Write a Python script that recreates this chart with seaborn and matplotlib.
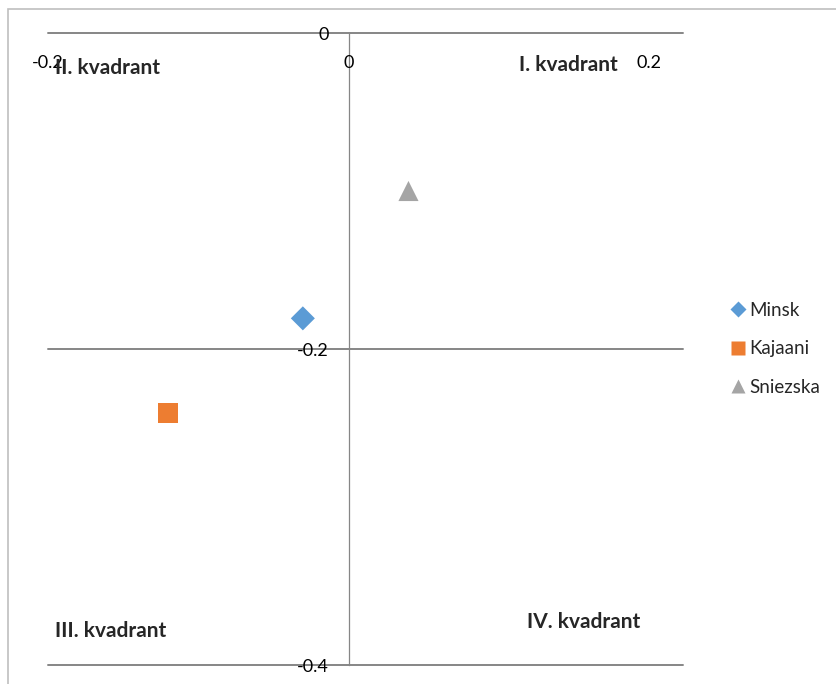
import matplotlib
matplotlib.use("Agg")
import matplotlib.pyplot as plt
import matplotlib.patches as mpatches
import seaborn as sns
import pandas as pd

# data
cities = ["Minsk", "Kajaani", "Sniezska"]
x_vals = [-0.0304, -0.1203, 0.0399]
y_vals = [-0.1806, -0.2405, -0.1000]
colors = ["#5B9BD5", "#ED7D31", "#A5A5A5"]
marker_kinds = ["D", "s", "^"]
marker_sizes = [150, 210, 210]
x_ticks = [-0.2, 0, 0.2]
y_ticks = [0, -0.2, -0.4]
quadrants = ["I. kvadrant", "II. kvadrant", "III. kvadrant", "IV. kvadrant"]

df = pd.DataFrame({"city": cities, "x": x_vals, "y": y_vals})

sns.set_style("white")
plt.rcParams["font.family"] = ["Lato", "DejaVu Sans"]

fig = plt.figure(figsize=(8.37, 6.84), dpi=100)
ax = fig.add_axes([48 / 837, 1 - 665 / 684, 635 / 837, 632 / 684])
ax.set_axisbelow(False)

# chart area border (cropped at right and bottom)
fig.patches.append(mpatches.Rectangle((8 / 837, -0.2), 1.2, 0.2 + 1 - 9 / 684,
                                      transform=fig.transFigure, fill=False,
                                      edgecolor="#BFBFBF", lw=1.2, zorder=0))

for yv in y_ticks:
    ax.axhline(yv, color="#868686", lw=1.4, clip_on=False, zorder=0.5)

sns.scatterplot(data=df, x="x", y="y", hue="city", style="city", size="city",
                palette=dict(zip(cities, colors)),
                markers=dict(zip(cities, marker_kinds)),
                sizes=dict(zip(cities, marker_sizes)),
                edgecolor="none", ax=ax, zorder=5, clip_on=False)

ax.set_xlim(-0.2, 0.2226)
ax.set_ylim(-0.4, 0)
ax.set_xticks(x_ticks)
ax.set_xticklabels(["-0.2", "0", "0.2"])
ax.set_yticks(y_ticks)
ax.set_yticklabels(["0", "-0.2", "-0.4"])
ax.set_xlabel("")
ax.set_ylabel("")

for sp in ["top", "right"]:
    ax.spines[sp].set_visible(False)
ax.spines["bottom"].set_position(("data", 0))
ax.spines["bottom"].set_visible(False)
ax.spines["left"].set_position(("data", 0))
ax.spines["left"].set_color("#868686")
ax.spines["left"].set_linewidth(0.9)
ax.spines["left"].set_zorder(0.5)

ax.tick_params(axis="both", length=0, labelsize=13, colors="black")
ax.tick_params(axis="y", pad=14)
ax.tick_params(axis="x", pad=16)

# quadrant captions
qpos = [(0.7417, 0.949), (0.011, 0.9446), (0.011, 0.0538), (0.754, 0.068)]
for txt, (qx, qy) in zip(quadrants, qpos):
    ax.text(qx, qy, txt, transform=ax.transAxes, fontsize=15, fontweight="bold",
            ha="left", va="center")

leg = ax.legend(loc="center left", bbox_to_anchor=(719 / 837, 1 - 349 / 684),
                bbox_transform=fig.transFigure, frameon=False, fontsize=13.5,
                handletextpad=0.1, labelspacing=1.15, markerscale=0.7,
                borderpad=0, handlelength=1.0)

fig.savefig("out.png", dpi=100)
